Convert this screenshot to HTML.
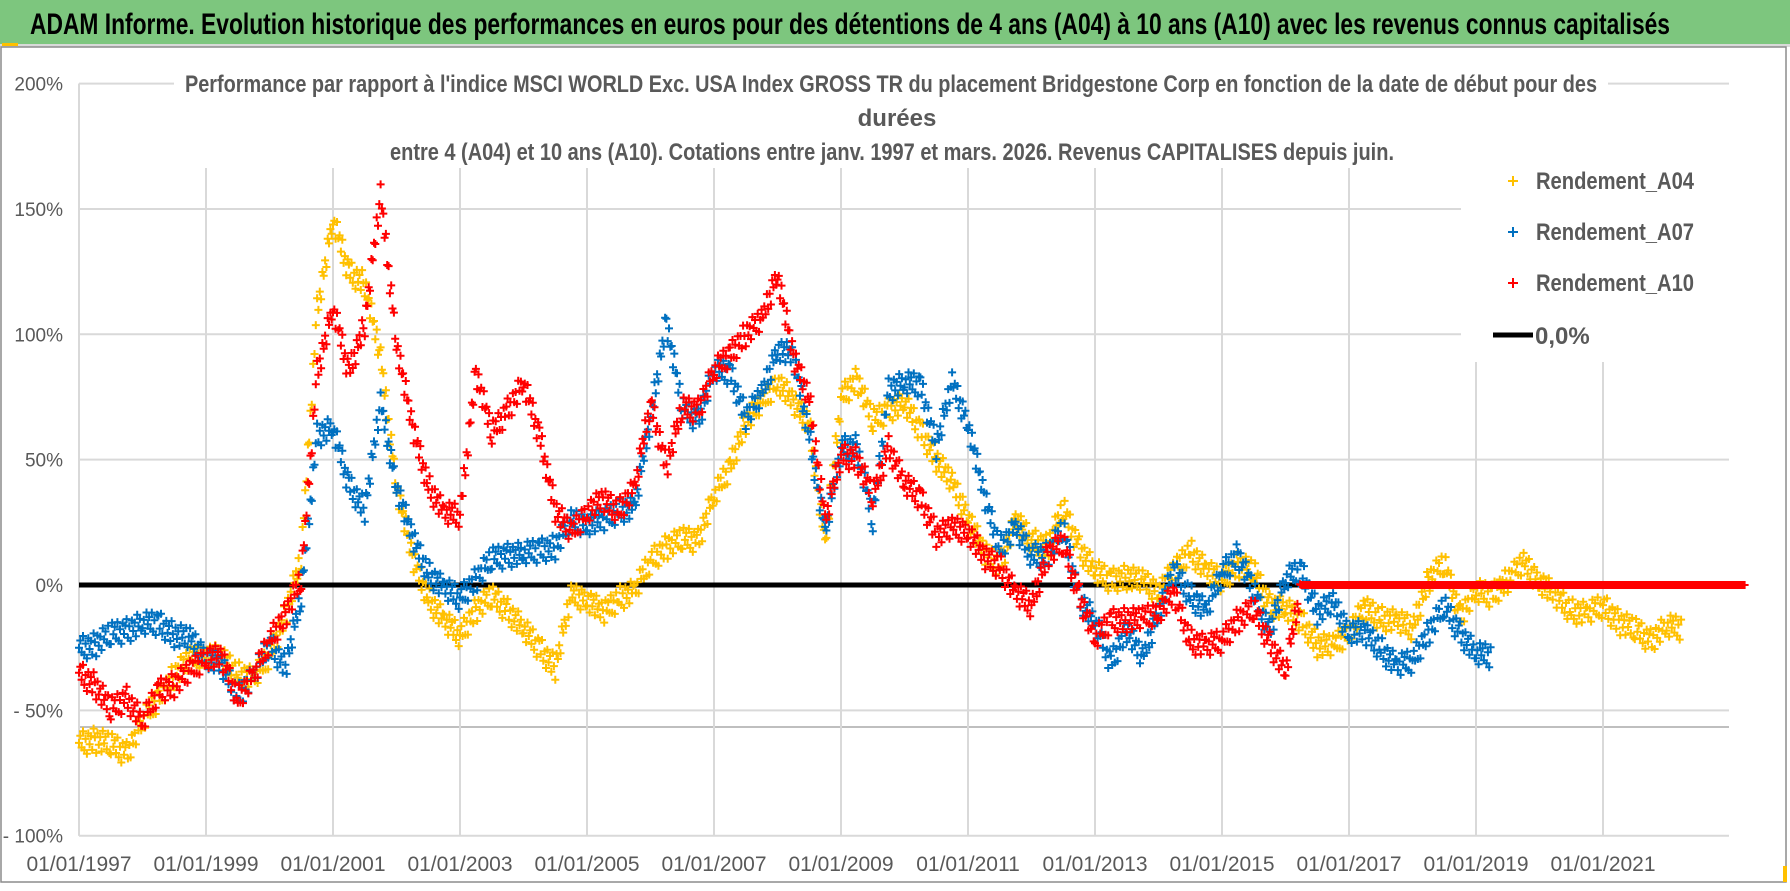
<!DOCTYPE html>
<html><head><meta charset="utf-8">
<style>
html,body{margin:0;padding:0;background:#fff;}
body{width:1790px;height:886px;overflow:hidden;position:relative;}
svg text{font-family:"Liberation Sans Narrow","Liberation Sans",sans-serif;}
</style></head>
<body>
<svg id="chart" width="1790" height="886" viewBox="0 0 1790 886" xmlns="http://www.w3.org/2000/svg">
  <rect x="0" y="0" width="1790" height="44" fill="#7DC67E"/>
  <text x="30" y="34" font-size="30" font-weight="bold" fill="#000" textLength="1640" lengthAdjust="spacingAndGlyphs">ADAM Informe. Evolution historique des performances en euros pour des détentions de 4 ans (A04) à 10 ans (A10) avec les revenus connus capitalisés</text>
  <rect x="0" y="44" width="1790" height="3" fill="#d9d9d9"/>
  <rect x="1" y="47" width="1785" height="835" fill="none" stroke="#8c8c8c" stroke-width="1.5"/>
  <rect x="2" y="43" width="16" height="3" fill="#FFC000"/>
  <rect x="1783" y="866" width="4" height="16" fill="#FFC000"/>
  <g id="grid"></g>
  <g id="marks"></g>
  <g id="axes"></g>
  <rect x="174" y="64" width="1434" height="104" fill="#fff"/>
  <text x="891" y="92" font-size="24" font-weight="bold" fill="#595959" text-anchor="middle" textLength="1412" lengthAdjust="spacingAndGlyphs">Performance par rapport à l'indice MSCI WORLD Exc. USA Index GROSS TR  du placement Bridgestone Corp en fonction de la date de début pour des</text>
  <text x="897" y="126" font-size="24" font-weight="bold" fill="#595959" text-anchor="middle">durées</text>
  <text x="892" y="160" font-size="24" font-weight="bold" fill="#595959" text-anchor="middle" textLength="1004" lengthAdjust="spacingAndGlyphs">entre 4 (A04) et 10 ans (A10). Cotations entre janv. 1997 et mars. 2026. Revenus CAPITALISES depuis juin.</text>
  <g id="legend">
    <rect x="1461" y="168" width="270" height="194" fill="#fff"/>
    <g>
      <path d="M1508 181h10M1513 176v10" stroke="#FFC000" stroke-width="2"/>
      <text x="1536" y="189" font-size="24" font-weight="bold" fill="#595959" textLength="158" lengthAdjust="spacingAndGlyphs">Rendement_A04</text>
    </g>
    <g>
      <path d="M1508 232h10M1513 227v10" stroke="#0070C0" stroke-width="2"/>
      <text x="1536" y="240" font-size="24" font-weight="bold" fill="#595959" textLength="158" lengthAdjust="spacingAndGlyphs">Rendement_A07</text>
    </g>
    <g>
      <path d="M1508 283h10M1513 278v10" stroke="#FF0000" stroke-width="2"/>
      <text x="1536" y="291" font-size="24" font-weight="bold" fill="#595959" textLength="158" lengthAdjust="spacingAndGlyphs">Rendement_A10</text>
    </g>
    <g>
      <line x1="1493" y1="335" x2="1533" y2="335" stroke="#000" stroke-width="5"/>
      <text x="1535" y="344" font-size="24" font-weight="bold" fill="#595959">0,0%</text>
    </g>
  </g>
</svg>
<script>
const startYear = 1997;
const stepYears = 0.25;
const yTickValues = [200, 150, 100, 50, 0, -50, -100];
const yTickLabels = ["200%", "150%", "100%", "50%", "0%", "- 50%", "- 100%"];
const xTickYears = [1997, 1999, 2001, 2003, 2005, 2007, 2009, 2011, 2013, 2015, 2017, 2019, 2021];
const xTickLabels = ["01/01/1997","01/01/1999","01/01/2001","01/01/2003","01/01/2005","01/01/2007","01/01/2009","01/01/2011","01/01/2013","01/01/2015","01/01/2017","01/01/2019","01/01/2021"];
const rendementA04 = [-63,-62,-64,-67, -55,-45,-36,-30, -27,-30,-35,-38, -28,-12,10,110, 145,125,120,90, 40,10,-5,-15, -20,-10,-5,-10, -18,-25,-33,-5, -5,-12,-5,-3, 10,15,18,18, 35,47,65,72, 82,72,65,15, 75,82,65,70, 72,62,50,40, 28,12,8,25, 18,15,30,15, 5,2,3,1, -2,5,14,5, 2,8,5,-8, -10,-14,-24,-25, -18,-10,-13,-15, -17,2,8,-12, -3,-4,2,8, 2,-5,-10,-12, -8,-15,-18,-22, -17];
const rendementA07 = [-25,-24,-20,-18, -16,-15,-20,-22, -28,-33,-44,-37, -23,-33,-5,60, 62,40,30,72, 40,18,5,-2, -5,2,10,12, 12,14,15,25, 25,25,30,30, 67,105,70,66, 85,85,67,75, 95,90,60,20, 55,55,25,78, 80,80,55,80, 65,35,15,22, 12,12,22,-5, -15,-31,-18,-30, -10,5,-4,-11, 5,12,-3,-18, 2,6,-11,-8, -18,-20,-25,-33, -30,-19,-9,-19, -28];
const rendementA10 = [-35,-40,-50,-45, -55,-42,-40,-35, -28,-30,-45,-37, -22,-12,2,85, 110,85,104,155, 97,62,40,28, 28,85,60,70, 80,60,30,20, 30,33,30,38, 73,47,70,70, 85,92,100,105, 125,90,75,25, 52,50,35,55, 40,35,20,22, 22,10,8,-4, -8,12,16,-4, -22,-14,-14,-14, -10,-5,-22,-25, -22,-14,-10,-23, -35,0,0,0, 0,0,0,0, 0,0,0,0, 0,0,0,0, 0,0,0,0, 0,0,0,0, 0,0,0,0, 0];

const NS = "http://www.w3.org/2000/svg";
const X0 = 79, X1 = 1729, PXYEAR = 63.5, Y0 = 585, PXPCT = 2.507;
function xScale(t){ return X0 + (t - startYear) * PXYEAR; }
function yScale(v){ return Y0 - v * PXPCT; }
function mk(tag, attrs, parent){ const e = document.createElementNS(NS, tag); for (const k in attrs) e.setAttribute(k, attrs[k]); parent.appendChild(e); return e; }

const grid = document.getElementById('grid');
const axes = document.getElementById('axes');
const marks = document.getElementById('marks');

yTickValues.forEach(function(v, i){
  const y = yScale(v);
  const gl = mk('line', {x1: X0, x2: X1, y1: y, y2: y, stroke: '#d9d9d9', 'stroke-width': 2}, grid);
  
  
  const tl = mk('text', {x: 63, y: y + 7, 'font-size': 19, fill: '#595959', 'text-anchor': 'end'}, axes);
  tl.textContent = yTickLabels[i];
  
  
});
const extra = mk('line', {x1: X0, x2: X1, y1: 727, y2: 727, stroke: '#bfbfbf', 'stroke-width': 2}, grid);



xTickYears.forEach(function(t, i){
  const x = xScale(t);
  const gl = mk('line', {x1: x, x2: x, y1: yScale(200), y2: yScale(-100), stroke: '#d9d9d9', 'stroke-width': 2}, grid);
  
  
  const tl = mk('text', {x: x, y: 871, 'font-size': 21, fill: '#595959', 'text-anchor': 'middle'}, axes);
  tl.textContent = xTickLabels[i];
  
  
});
const yAxis = mk('line', {x1: X0, x2: X0, y1: yScale(200), y2: yScale(-100), stroke: '#d9d9d9', 'stroke-width': 2}, grid);



const zero = mk('line', {x1: X0, x2: X1, y1: yScale(0), y2: yScale(0), stroke: '#000', 'stroke-width': 5}, marks);



const dyPattern = [0, -7, 5, -11, 8, -3, 12, -8, 3, -5, 9, -12];
function drawSeries(values, color, name){
  const g = mk('g', {}, marks);
  
  
  let d = '';
  const qw = stepYears * PXYEAR;
  const n = dyPattern.length;
  values.forEach(function(v, i){
    const t = startYear + i * stepYears;
    const xc = xScale(t);
    const nv = i + 1 < values.length ? values[i + 1] : v;
    const flat = (v === 0 && nv === 0);
    for (let k = 0; k < n; k++){
      const f = k / n;
      const x = xc + f * qw;
      const base = yScale(v + (nv - v) * f);
      const y = flat ? base : base + dyPattern[(k + i * 5) % n];
      d += 'M' + (x - 4).toFixed(1) + ' ' + y.toFixed(1) + 'h8M' + x.toFixed(1) + ' ' + (y - 4).toFixed(1) + 'v8';
    }
  });
  mk('path', {d: d, stroke: color, 'stroke-width': 2, fill: 'none'}, g);
}
drawSeries(rendementA04, '#FFC000', 'series-a04');
drawSeries(rendementA07, '#0070C0', 'series-a07');
drawSeries(rendementA10, '#FF0000', 'series-a10');
</script>
</body></html>
